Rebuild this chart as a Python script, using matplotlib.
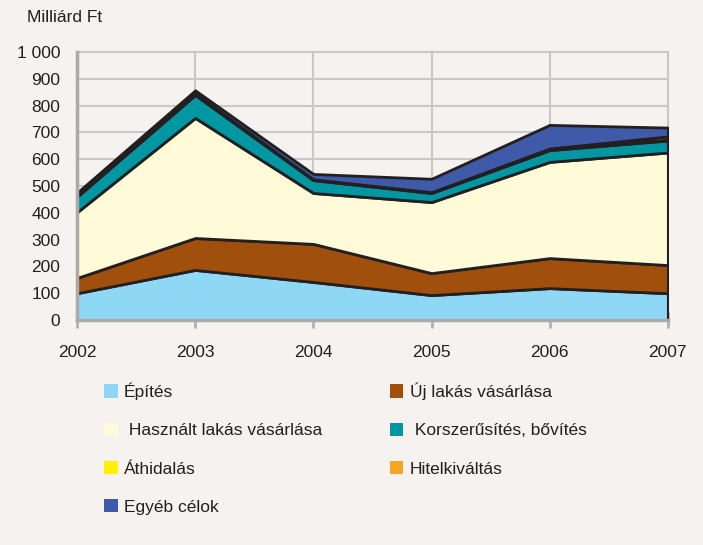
import matplotlib.pyplot as plt
from matplotlib.patches import Patch
from matplotlib import font_manager

# Lakáscélú hitelek felhasználási cél szerint (Milliárd Ft)
years = [2002, 2003, 2004, 2005, 2006, 2007]
epites = [100, 187, 142, 93, 119, 100]
uj_lakas = [57, 119, 142, 82, 112, 105]
hasznalt_lakas = [245, 448, 190, 265, 359, 420]
korszerusites = [58, 86, 48, 34, 44, 45]
athidalas = [3, 5, 3, 3, 3, 3]
hitelkivaltas = [0, 0, 0, 0, 3, 12]
egyeb = [12, 12, 20, 50, 88, 33]

labels = ['Építés', 'Új lakás vásárlása', ' Használt lakás vásárlása',
          ' Korszerűsítés, bővítés', 'Áthidalás', 'Hitelkiváltás', 'Egyéb célok']
colors = ['#8fd8f5', '#a0500c', '#fffad8', '#0097a3', '#fff200', '#f5a623', '#3f5aa8']
yticks = [0, 100, 200, 300, 400, 500, 600, 700, 800, 900, 1000]
ytick_labels = ['0', '100', '200', '300', '400', '500', '600', '700', '800', '900', '1 000']

names = {f.name for f in font_manager.fontManager.ttflist}
font = 'Liberation Sans Narrow' if 'Liberation Sans Narrow' in names else 'Liberation Sans'
plt.rcParams['font.family'] = [font, 'DejaVu Sans']

bg = '#f5f2ef'
fig = plt.figure(figsize=(7.03, 5.45), dpi=100, facecolor=bg)
ax = fig.add_axes([0.1095, 0.4128, 0.8405, 0.4918])
ax.set_facecolor(bg)

ax.stackplot(years, epites, uj_lakas, hasznalt_lakas, korszerusites, athidalas,
             hitelkivaltas, egyeb, colors=colors, edgecolor='#231f20',
             linewidth=2.0, zorder=3)

ax.set_xlim(2002, 2007)
ax.set_ylim(0, 1000)
ax.set_yticks(yticks)
ax.set_yticklabels(ytick_labels, fontsize=12.5, color='#231f20')
ax.set_xticks(years)
ax.set_xticklabels([str(y) for y in years], fontsize=12.5, color='#231f20')
ax.tick_params(axis='y', length=0, pad=12)
ax.tick_params(axis='x', direction='inout', length=12, width=2, color='#b0b0b0', pad=12)

ax.grid(True, color='#c8c8c8', linewidth=1.5, zorder=1)
ax.set_axisbelow(True)
for side in ['top', 'right']:
    ax.spines[side].set_color('#c8c8c8')
    ax.spines[side].set_linewidth(1.5)
for side in ['left', 'bottom']:
    ax.spines[side].set_color('#aaaaaa')
    ax.spines[side].set_linewidth(2.5)
    ax.spines[side].set_zorder(4)

fig.text(27 / 703, 1 - 10 / 545, 'Milliárd Ft', fontsize=12.5, color='#231f20',
         va='top', ha='left')

# legend: column-major order for two columns
order = [0, 2, 4, 6, 1, 3, 5]
handles = [Patch(facecolor=colors[i], edgecolor='none') for i in order]
fig.legend(handles, [labels[i] for i in order], ncol=2, frameon=False,
           loc='upper left', bbox_to_anchor=(88 / 703, 1 - 367 / 545),
           fontsize=12.5, handlelength=0.8, handleheight=0.8, handletextpad=0.35,
           labelspacing=1.3, columnspacing=3.9, labelcolor='#231f20')

fig.savefig('out.png', dpi=100, facecolor=bg)
